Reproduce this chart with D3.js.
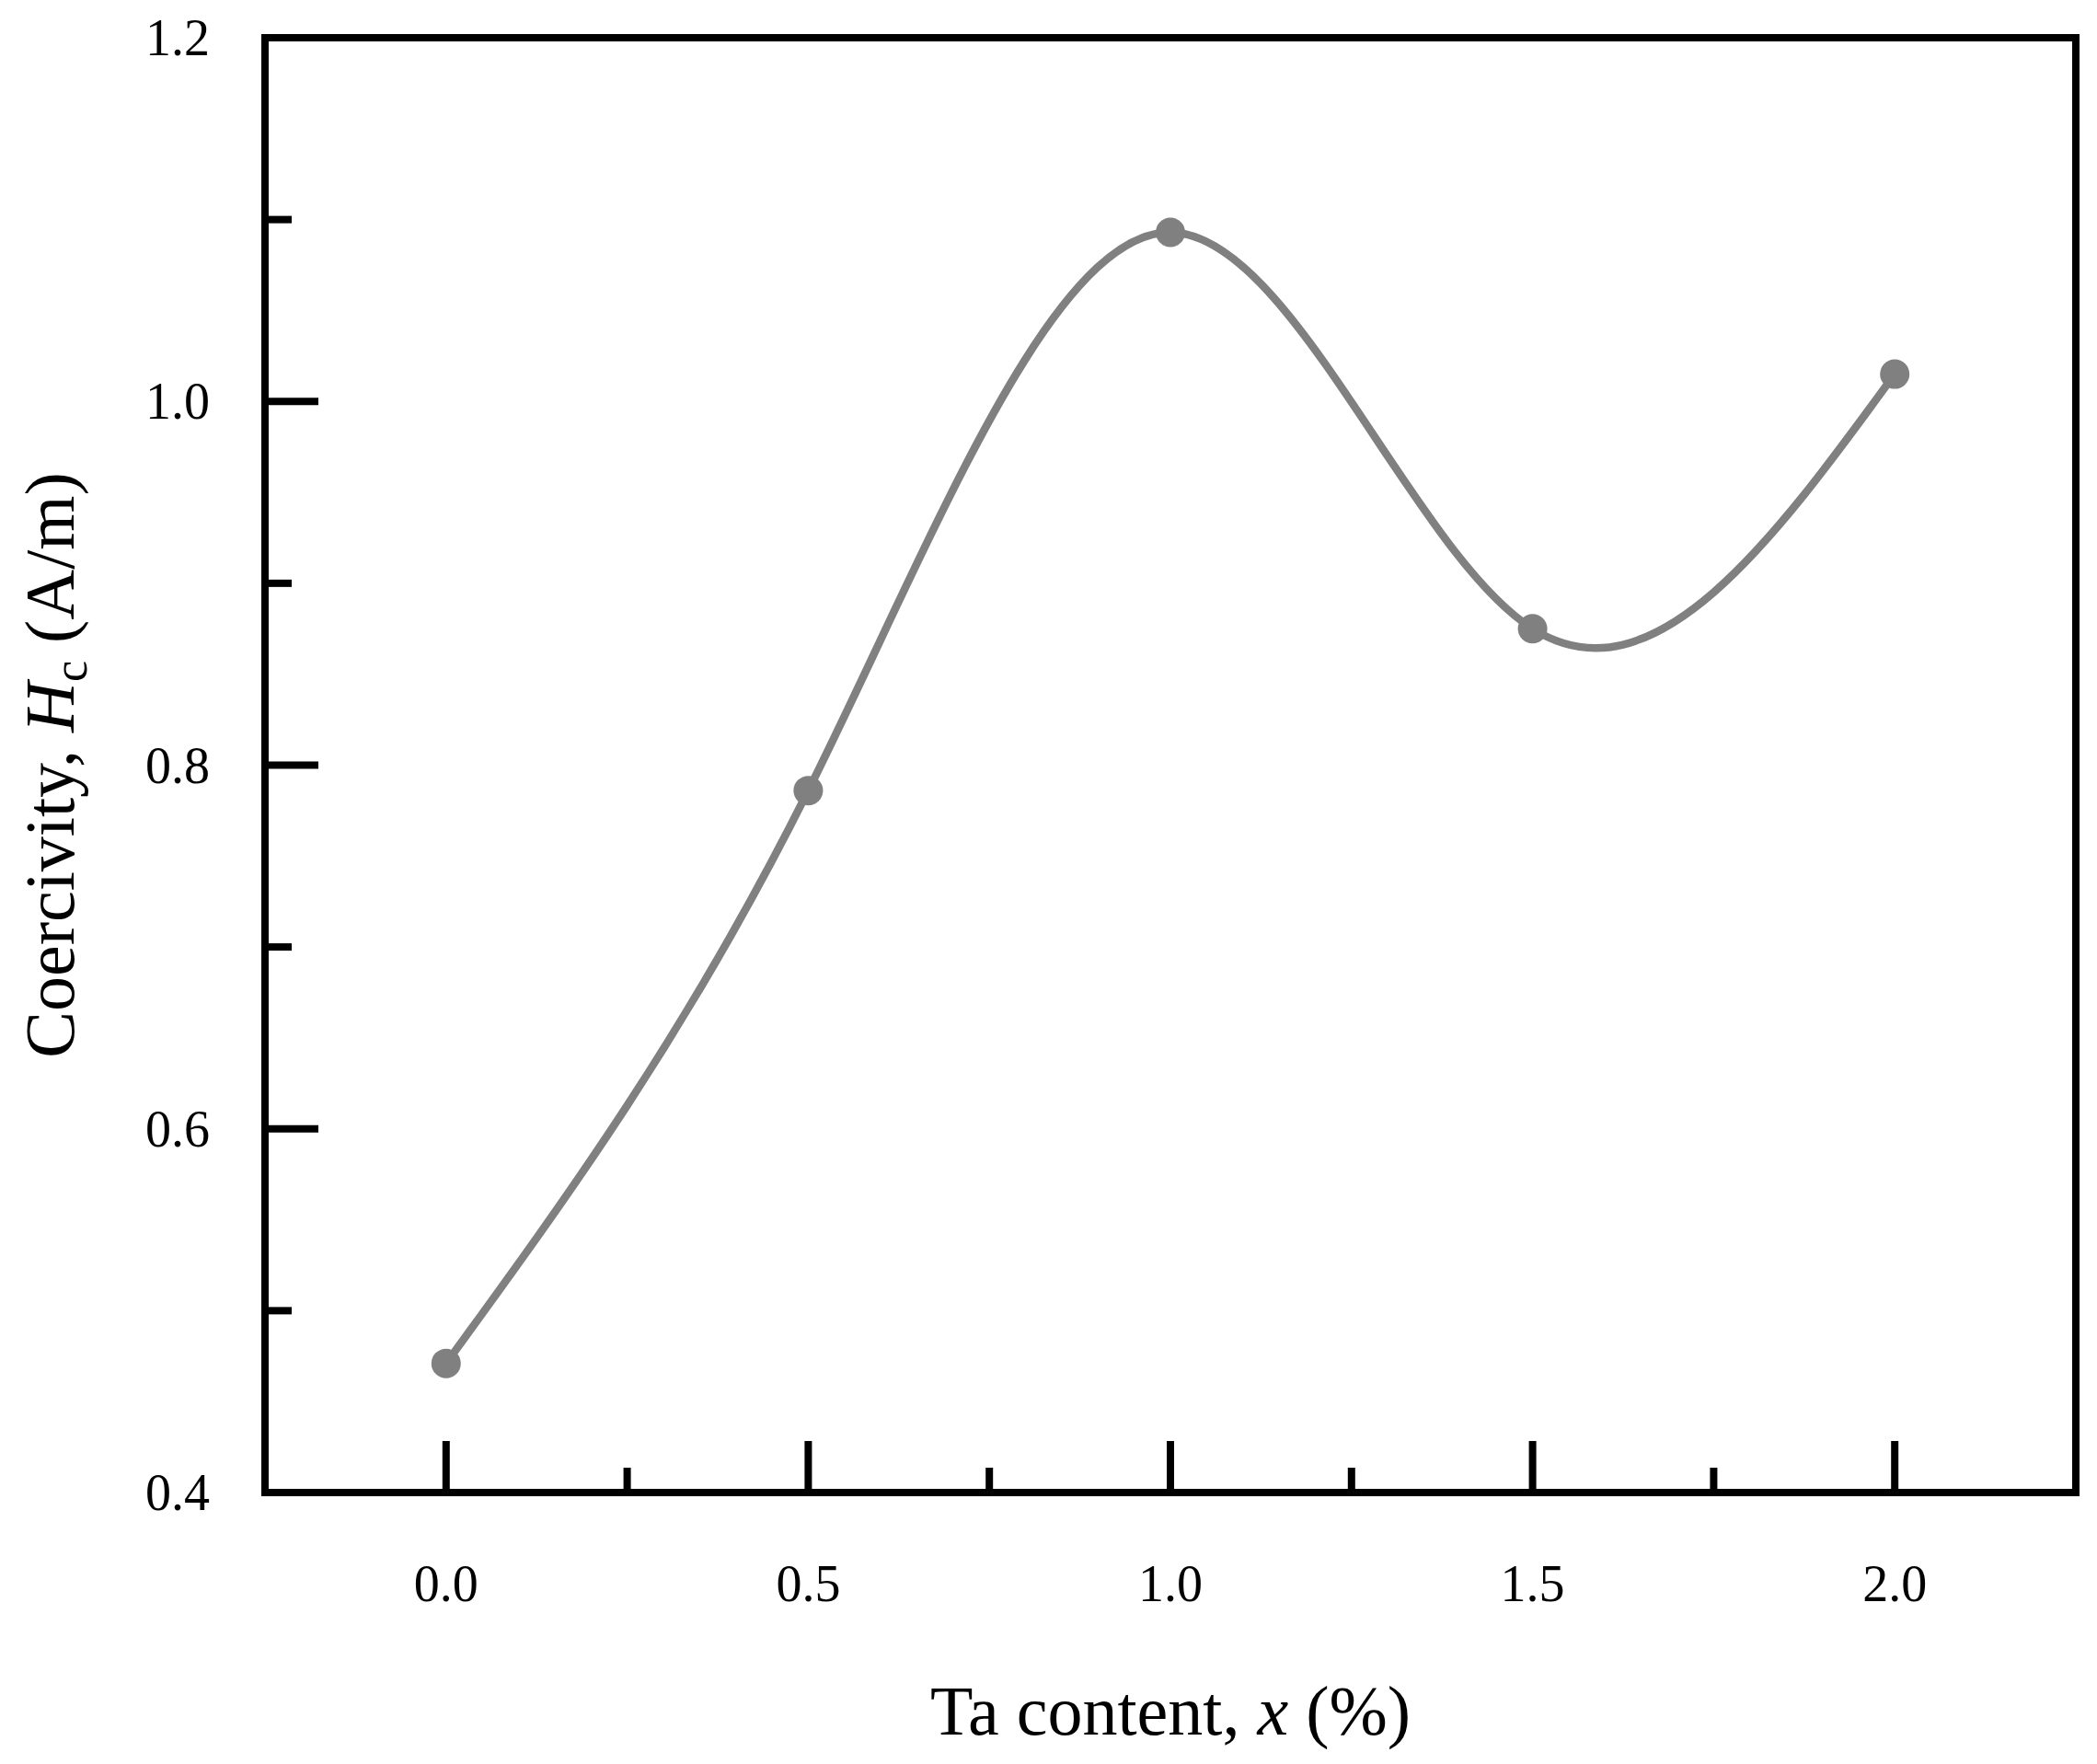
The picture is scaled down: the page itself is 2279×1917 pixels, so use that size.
<!DOCTYPE html><html><head><meta charset="utf-8">
<script src="https://cdn.jsdelivr.net/npm/d3@7"></script>
<style>body{margin:0;background:#fff}text{font-family:"Liberation Serif","Times New Roman",serif}</style></head><body>
<svg id="c" width="2279" height="1917"></svg>
<script>
const xVals=[0.0,0.5,1.0,1.5,2.0];
const yVals=[0.471,0.786,1.093,0.875,1.015];
const xTicks=[0.0,0.5,1.0,1.5,2.0];
const yTicks=[0.4,0.6,0.8,1.0,1.2];
const svg=d3.select("#c");
const L=288,R=2256,T=41,B=1622;
const x=d3.scaleLinear().domain([-0.25,2.25]).range([L,R]);
const y=d3.scaleLinear().domain([0.4,1.2]).range([B,T]);
const data=xVals.map((v,i)=>[v,yVals[i]]);
svg.append("path").datum(data).attr("fill","none").attr("stroke","#808080").attr("stroke-width",8.5)
 .attr("d",d3.line().x(d=>x(d[0])).y(d=>y(d[1])).curve(d3.curveNatural));
svg.selectAll("circle").data(data).join("circle").attr("cx",d=>x(d[0])).attr("cy",d=>y(d[1])).attr("r",16).attr("fill","#808080");
svg.append("rect").attr("x",L).attr("y",T).attr("width",R-L).attr("height",B-T).attr("fill","none").attr("stroke","#000").attr("stroke-width",8);
d3.range(0.4,1.2001,0.1).forEach((v,i)=>{const major=i%2===0;
 svg.append("line").attr("x1",L).attr("x2",L+(major?58:29)).attr("y1",y(v)).attr("y2",y(v)).attr("stroke","#000").attr("stroke-width",8);});
yTicks.forEach(v=>svg.append("text").attr("x",228).attr("y",y(v)+19).attr("text-anchor","end").attr("font-size",56).text(v.toFixed(1)));
d3.range(0,2.0001,0.25).forEach((v,i)=>{const major=i%2===0;
 svg.append("line").attr("x1",x(v)).attr("x2",x(v)).attr("y1",B).attr("y2",B-(major?56:27)).attr("stroke","#000").attr("stroke-width",8);});
xTicks.forEach(v=>svg.append("text").attr("x",x(v)).attr("y",1740).attr("text-anchor","middle").attr("font-size",56).text(v.toFixed(1)));
const xt=svg.append("text").attr("x",(L+R)/2).attr("y",1885).attr("text-anchor","middle").attr("font-size",76);
xt.append("tspan").text("Ta content, ");xt.append("tspan").attr("font-style","italic").text("x");xt.append("tspan").text(" (%)");
const yt=svg.append("text").attr("transform","translate(80,"+((T+B)/2)+") rotate(-90)").attr("text-anchor","middle").attr("font-size",76);
yt.append("tspan").text("Coercivity, ");yt.append("tspan").attr("font-style","italic").text("H");
yt.append("tspan").attr("font-size",52).attr("dy",14).text("c");yt.append("tspan").attr("dy",-14).text(" (A/m)");
</script></body></html>
